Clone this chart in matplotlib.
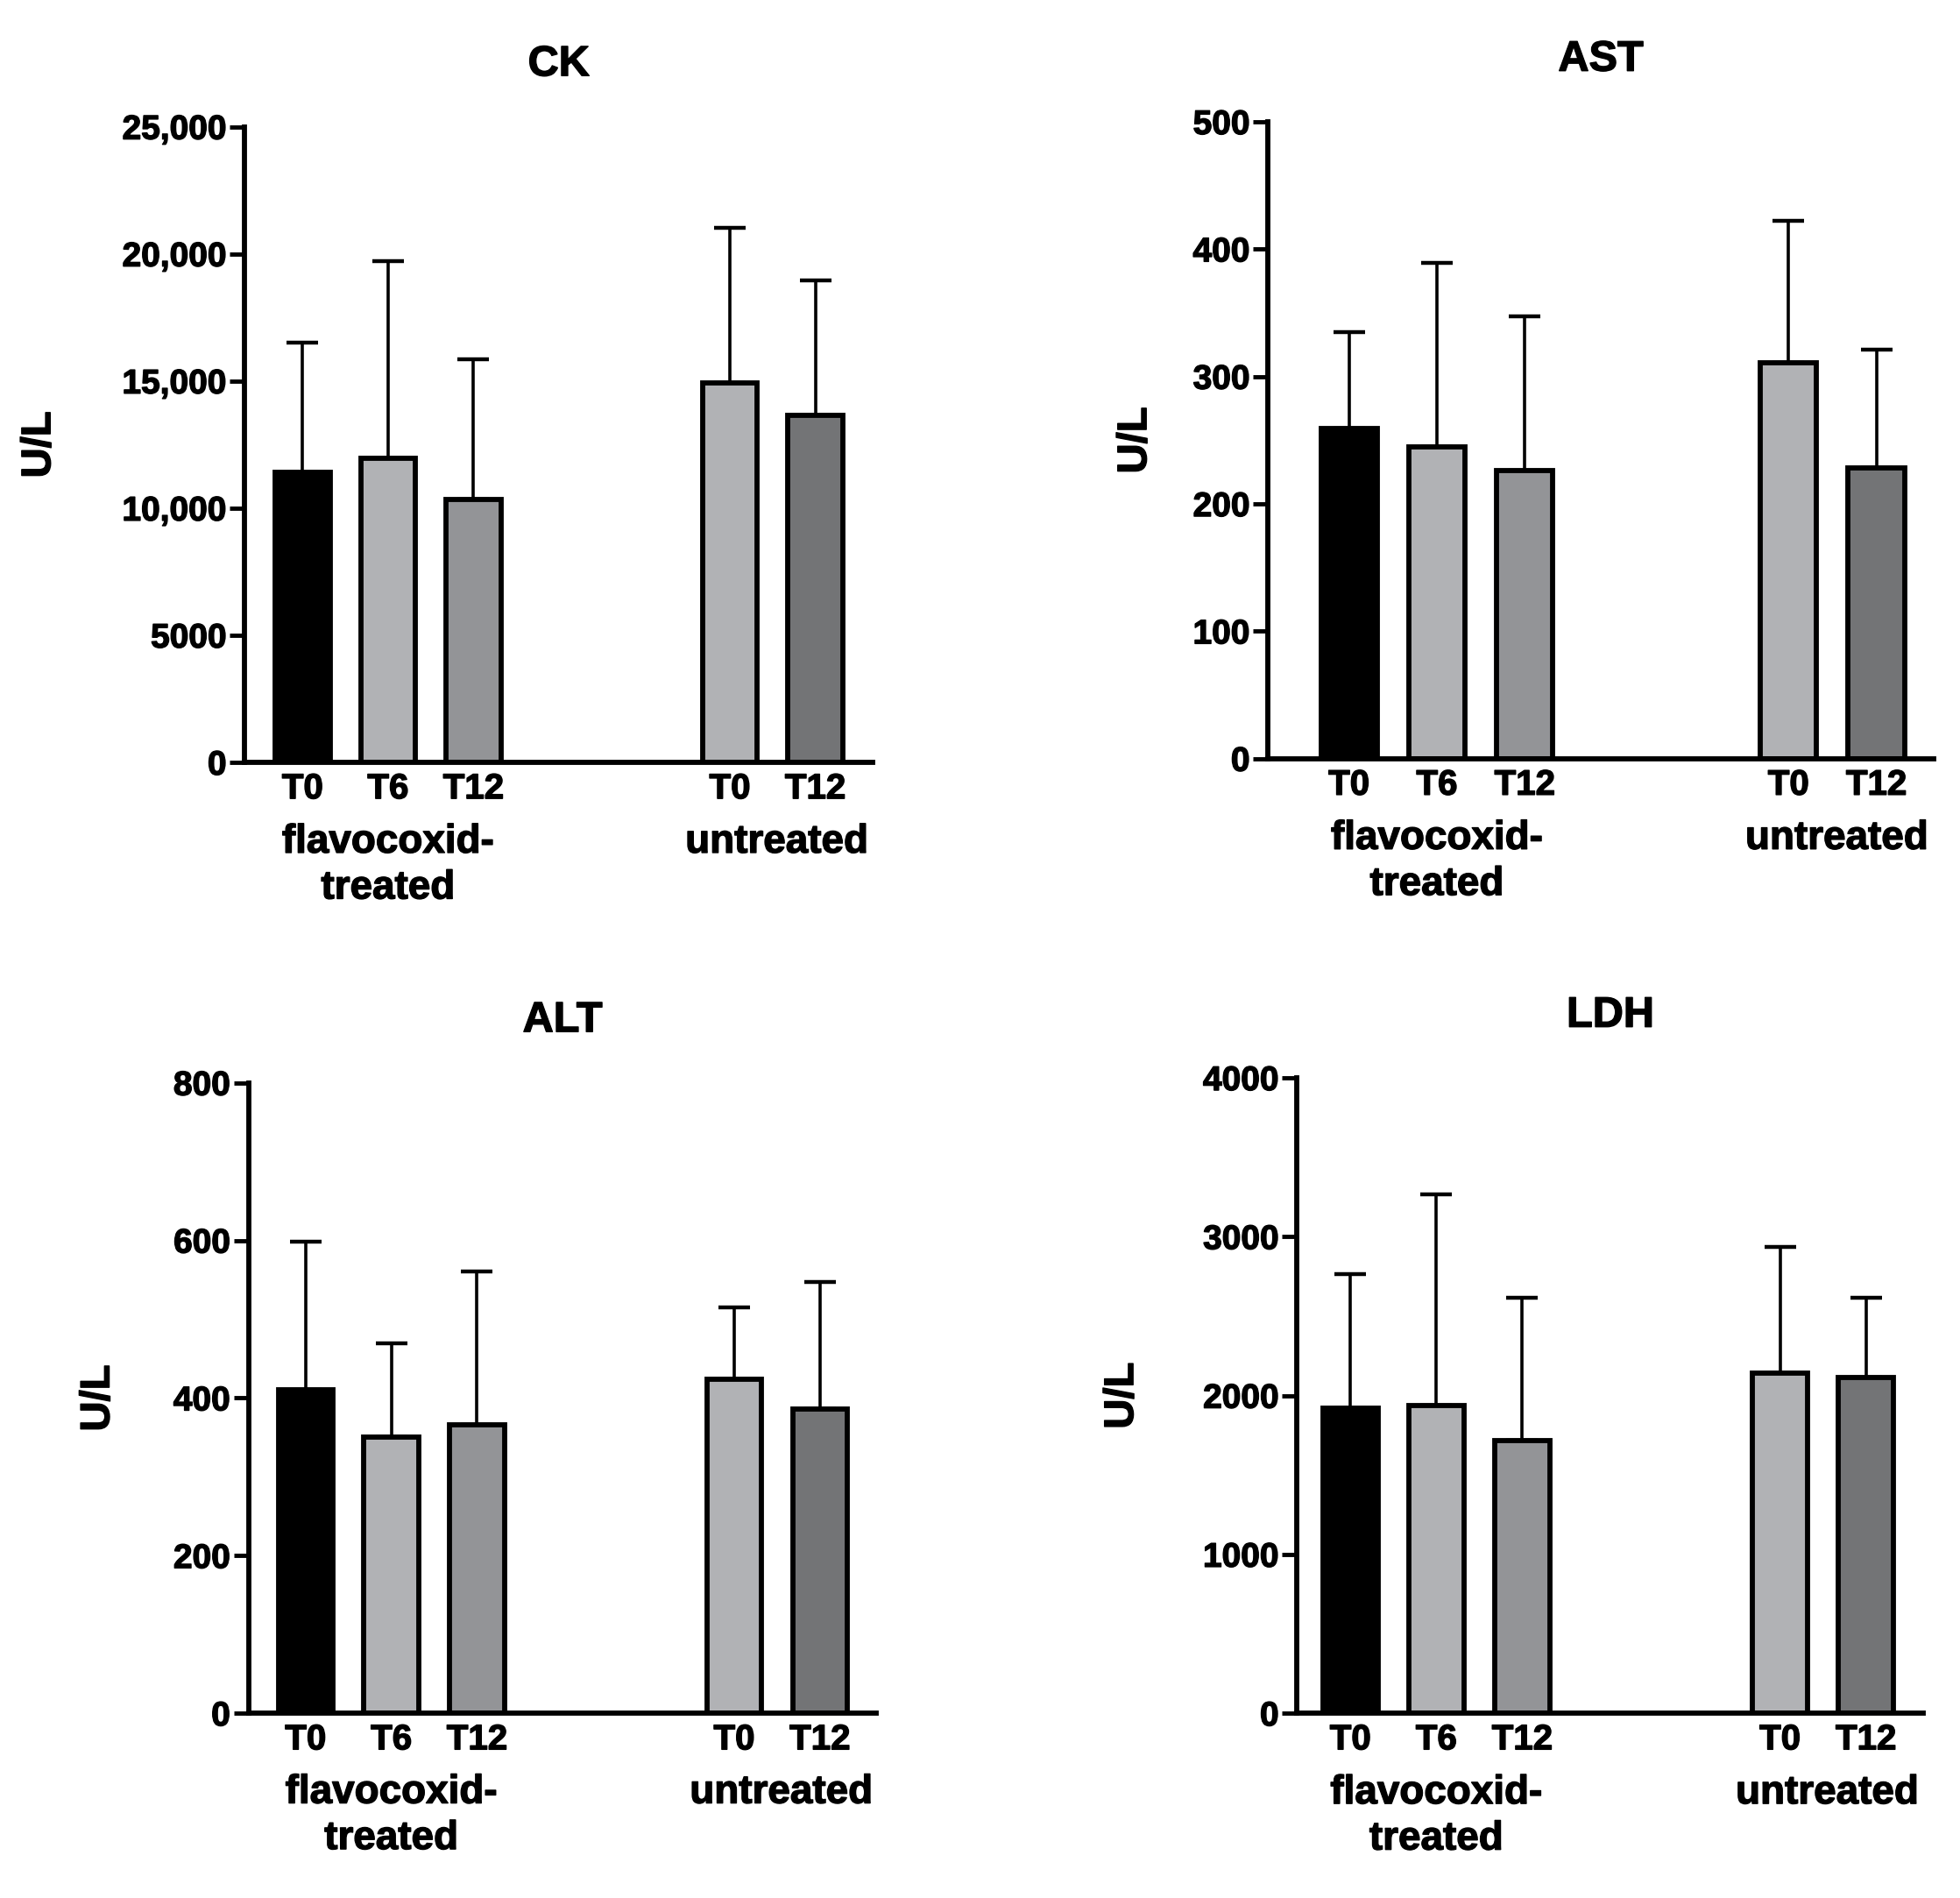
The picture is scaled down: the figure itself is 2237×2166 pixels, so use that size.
import matplotlib
matplotlib.use("Agg")
import matplotlib.pyplot as plt
import matplotlib.patheffects as pe
from matplotlib.transforms import blended_transform_factory

plt.rcParams['font.family'] = ['Liberation Sans', 'DejaVu Sans']
plt.rcParams['font.weight'] = 'bold'

# ---- data ----
tick_labels = ["T0", "T6", "T12", "T0", "T12"]
bar_colors = ["#000000", "#b1b2b5", "#939497", "#b1b2b5", "#737476"]

ck_mean = [11420, 11950, 10330, 14920, 13650]
ck_err_top = [16500, 19700, 15850, 21040, 18950]
ck_yticks = [0, 5000, 10000, 15000, 20000, 25000]
ck_yticklabels = ["0", "5000", "10,000", "15,000", "20,000", "25,000"]

ast_mean = [259, 245, 226, 311, 228]
ast_err_top = [335, 389, 347, 422, 321]
ast_yticks = [0, 100, 200, 300, 400, 500]
ast_yticklabels = ["0", "100", "200", "300", "400", "500"]

alt_mean = [410, 351, 366, 424, 386]
alt_err_top = [598, 469, 561, 515, 547]
alt_yticks = [0, 200, 400, 600, 800]
alt_yticklabels = ["0", "200", "400", "600", "800"]

ldh_mean = [1921, 1936, 1717, 2139, 2113]
ldh_err_top = [2765, 3269, 2618, 2938, 2618]
ldh_yticks = [0, 1000, 2000, 3000, 4000]
ldh_yticklabels = ["0", "1000", "2000", "3000", "4000"]

titles = ["CK", "AST", "ALT", "LDH"]
group_labels = ["flavocoxid-\ntreated", "untreated"]
ylabel = "U/L"

positions = [0, 1, 2, 5, 6]

panels = [
    (titles[0], ck_mean, ck_err_top, ck_yticks, ck_yticklabels,
     [0.1249, 0.5983, 0.3203, 0.3349], (-0.676, 6.67), -0.296),
    (titles[1], ast_mean, ast_err_top, ast_yticks, ast_yticklabels,
     [0.6470, 0.6003, 0.3395, 0.3355], (-0.92, 6.65), -0.170),
    (titles[2], alt_mean, alt_err_top, alt_yticks, alt_yticklabels,
     [0.1268, 0.0973, 0.3204, 0.3322], (-0.666, 6.66), -0.208),
    (titles[3], ldh_mean, ldh_err_top, ldh_yticks, ldh_yticklabels,
     [0.6618, 0.0973, 0.3196, 0.3348], (-0.62, 6.67), -0.248),
]

stroke = [pe.withStroke(linewidth=1.0, foreground='black')]

fig = plt.figure(figsize=(22.37, 21.66), dpi=100)

for title, mean, errtop, yt, ytl, rect, xl, ylx in panels:
    ax = fig.add_axes(rect)
    upper = [e - m for e, m in zip(errtop, mean)]
    lower = [0] * len(mean)
    ax.errorbar(positions, mean, yerr=[lower, upper], fmt='none',
                ecolor='black', elinewidth=2.6, capsize=13, capthick=3.2,
                zorder=1)
    ax.bar(positions, mean, width=0.64, color=bar_colors,
           edgecolor='black', linewidth=4.2, zorder=2)
    ax.set_xlim(*xl)
    ax.set_ylim(yt[0], yt[-1])
    ax.set_yticks(yt)
    ax.set_yticklabels(ytl, fontsize=28, fontweight='bold')
    ax.set_xticks(positions)
    ax.set_xticklabels(tick_labels, fontsize=29, fontweight='bold')
    for lab in ax.get_xticklabels() + ax.get_yticklabels():
        lab.set_path_effects(stroke)
    ax.tick_params(axis='x', length=0, pad=8)
    ax.tick_params(axis='y', length=12, width=3.5, pad=3)
    for s in ['top', 'right']:
        ax.spines[s].set_visible(False)
    for s in ['left', 'bottom']:
        ax.spines[s].set_linewidth(4.2)
    t = ax.set_title(title, fontsize=35, fontweight='bold', pad=42)
    t.set_path_effects(stroke)
    yl = ax.set_ylabel(ylabel, fontsize=34, fontweight='bold')
    yl.set_path_effects(stroke)
    ax.yaxis.set_label_coords(ylx, 0.5)
    tr = blended_transform_factory(ax.transData, ax.transAxes)
    g1 = ax.text(1.0, -0.095, group_labels[0], transform=tr, ha='center', va='top',
                 fontsize=33, fontweight='bold', linespacing=1.25)
    g2 = ax.text(5.55, -0.095, group_labels[1], transform=tr, ha='center', va='top',
                 fontsize=33, fontweight='bold')
    g1.set_path_effects(stroke)
    g2.set_path_effects(stroke)

fig.savefig("out.png", dpi=100, facecolor='white')
